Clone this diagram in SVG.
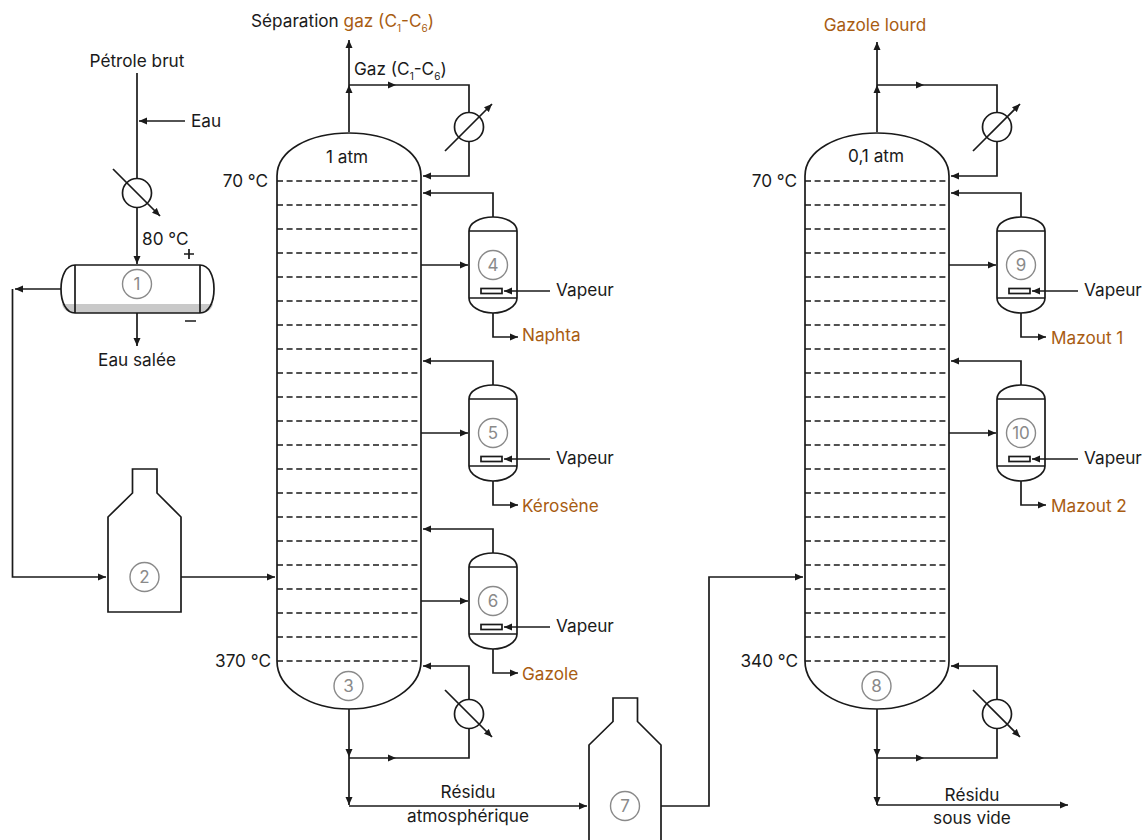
<svg xmlns="http://www.w3.org/2000/svg" width="1147" height="840" viewBox="0 0 1147 840">
<style>
text{font-family:"Inter","Liberation Sans",sans-serif;font-size:17.200px;fill:#1a1a1a}
.b{fill:#a85c12}
.m{text-anchor:middle}
.e{text-anchor:end}
.n{font-size:17px;fill:#8a8a8a;text-anchor:middle}
.s{font-size:10px}
.l{fill:none;stroke:#1a1a1a;stroke-width:1.700}
.w{fill:#fff;stroke:#1a1a1a;stroke-width:1.700}
.o{fill:#fff;stroke:#1a1a1a;stroke-width:1.700}
.a{fill:none;stroke:#1a1a1a;stroke-width:1.700;marker-end:url(#h)}
.c{fill:none;stroke:#8a8a8a;stroke-width:1.400}
.d{fill:none;stroke:#1a1a1a;stroke-width:1.700;stroke-dasharray:6 3.600}
</style>
<defs>
<marker id="h" markerUnits="userSpaceOnUse" markerWidth="10" markerHeight="8" refX="8" refY="4" orient="auto"><path d="M0 .5L8 4L0 7.500Z" fill="#1a1a1a"/></marker>
</defs>
<rect width="1147" height="840" fill="#fff"/>
<g id="connectors">
<path class="a" d="M137 73V264"/><path class="a" d="M185 121H139"/>
<path class="a" d="M61 289H15"/><path class="a" d="M12.500 289V577H106"/>
<path class="a" d="M137 313V346"/>
<path class="a" d="M181 577H275"/>
<path class="a" d="M349 132V85"/><path class="a" d="M349 85V40"/>
<path class="a" d="M349 85H396"/><path class="l" d="M396 85H469V113"/><path class="a" d="M469 142V176H423"/>
<path class="a" d="M493 217V193H423"/><path class="a" d="M421 265H468"/><path class="a" d="M550 291H504"/><path class="a" d="M493 313V337H518"/>
<path class="a" d="M493 385V361H423"/><path class="a" d="M421 433H468"/><path class="a" d="M550 459H504"/><path class="a" d="M493 481V505H518"/>
<path class="a" d="M493 553V529H423"/><path class="a" d="M421 601H468"/><path class="a" d="M550 627H504"/><path class="a" d="M493 649V673H518"/>
<path class="a" d="M349 709V757"/><path class="a" d="M349 757V805"/><path class="a" d="M349 758H396"/><path class="l" d="M396 758H469V728"/><path class="a" d="M469 699V666H423"/>
<path class="a" d="M349 806H587"/>
<path class="a" d="M661 806H709V577H803"/>
<path class="a" d="M877 132V85"/><path class="a" d="M877 85V42"/>
<path class="a" d="M877 85H924"/><path class="l" d="M924 85H997V113"/><path class="a" d="M997 142V176H951"/>
<path class="a" d="M1021 217V193H951"/><path class="a" d="M949 265H996"/><path class="a" d="M1078 291H1032"/><path class="a" d="M1021 313V337H1046"/>
<path class="a" d="M1021 385V361H951"/><path class="a" d="M949 433H996"/><path class="a" d="M1078 459H1032"/><path class="a" d="M1021 481V505H1046"/>
<path class="a" d="M877 709V757"/><path class="a" d="M877 757V805"/><path class="a" d="M877 758H924"/><path class="l" d="M924 758H997V728"/><path class="a" d="M997 699V666H951"/>
<path class="a" d="M877 805H1068"/>
</g>
<g id="hx-crude"><circle class="o" cx="137" cy="193" r="14.500"/><path class="a" d="M113 169L160 216"/></g>
<g id="hx-top1"><circle class="o" cx="469" cy="127" r="14.500"/><path class="a" d="M445 151L492 104"/></g>
<g id="hx-bottom1"><circle class="o" cx="469" cy="714" r="14.500"/><path class="a" d="M445 690L492 737"/></g>
<g id="hx-top2"><circle class="o" cx="997" cy="127" r="14.500"/><path class="a" d="M973 151L1020 104"/></g>
<g id="hx-bottom2"><circle class="o" cx="997" cy="714" r="14.500"/><path class="a" d="M973 690L1020 737"/></g>
<g id="node1">
<path d="M62 304H213C212 309 208 313 200 313H75C67 313 63 309 62 304Z" fill="#c9c9c9"/>
<path class="l" d="M75 265H200C209 265 214 276 214 289C214 302 209 313 200 313H75C66 313 61 302 61 289C61 276 66 265 75 265ZM75 265V313M200 265V313"/>
<circle class="c" cx="137" cy="284" r="14.500"/><text class="n" x="137" y="290">1</text>
<path class="l" d="M184 254H194M189 249V259M185 321H196"/>
</g>
<g id="node2"><path class="l" d="M108 612V517L132.500 493V469H157V493L181 517V612Z"/>
<circle class="c" cx="144.500" cy="577" r="14.500"/><text class="n" x="144.500" y="583">2</text></g>
<g id="node3">
<path class="l" d="M277 176C277 150 310 133 349 133C388 133 421 150 421 176V661C421 688 388 709 349 709C310 709 277 688 277 661Z"/>
<path class="d" d="M277 181H421M277 205H421M277 229H421M277 253H421M277 277H421M277 301H421M277 325H421M277 349H421M277 373H421M277 397H421M277 421H421M277 445H421M277 469H421M277 493H421M277 517H421M277 541H421M277 565H421M277 589H421M277 613H421M277 637H421M277 661H421"/>
<circle class="c" cx="348.500" cy="686" r="14.500"/><text class="n" x="348.500" y="692">3</text></g>
<g id="node4"><path class="l" d="M469 231C469 223 480 217 493 217C506 217 517 223 517 231V298C517 306 506 313 493 313C480 313 469 306 469 298ZM469 231H517M469 298H517"/>
<circle class="c" cx="493" cy="265" r="14.500"/><text class="n" x="493" y="271">4</text><rect class="w" x="481" y="288.500" width="21" height="5"/></g>
<g id="node5"><path class="l" d="M469 399C469 391 480 385 493 385C506 385 517 391 517 399V466C517 474 506 481 493 481C480 481 469 474 469 466ZM469 399H517M469 466H517"/>
<circle class="c" cx="493" cy="433" r="14.500"/><text class="n" x="493" y="439">5</text><rect class="w" x="481" y="456.500" width="21" height="5"/></g>
<g id="node6"><path class="l" d="M469 567C469 559 480 553 493 553C506 553 517 559 517 567V634C517 642 506 649 493 649C480 649 469 642 469 634ZM469 567H517M469 634H517"/>
<circle class="c" cx="493" cy="601" r="14.500"/><text class="n" x="493" y="607">6</text><rect class="w" x="481" y="624.500" width="21" height="5"/></g>
<g id="node7"><path class="l" d="M589 840V745L613 721.500V698H637.500V721.500L661 745V840"/>
<circle class="c" cx="625" cy="806" r="14.500"/><text class="n" x="625" y="812">7</text></g>
<g id="node8">
<path class="l" d="M805 176C805 150 838 133 877 133C916 133 949 150 949 176V661C949 688 916 709 877 709C838 709 805 688 805 661Z"/>
<path class="d" d="M805 181H949M805 205H949M805 229H949M805 253H949M805 277H949M805 301H949M805 325H949M805 349H949M805 373H949M805 397H949M805 421H949M805 445H949M805 469H949M805 493H949M805 517H949M805 541H949M805 565H949M805 589H949M805 613H949M805 637H949M805 661H949"/>
<circle class="c" cx="876.500" cy="686" r="14.500"/><text class="n" x="876.500" y="692">8</text></g>
<g id="node9"><path class="l" d="M997 231C997 223 1008 217 1021 217C1034 217 1045 223 1045 231V298C1045 306 1034 313 1021 313C1008 313 997 306 997 298ZM997 231H1045M997 298H1045"/>
<circle class="c" cx="1021" cy="265" r="14.500"/><text class="n" x="1021" y="271">9</text><rect class="w" x="1009" y="288.500" width="21" height="5"/></g>
<g id="node10"><path class="l" d="M997 399C997 391 1008 385 1021 385C1034 385 1045 391 1045 399V466C1045 474 1034 481 1021 481C1008 481 997 474 997 466ZM997 399H1045M997 466H1045"/>
<circle class="c" cx="1021" cy="433" r="14.500"/><text class="n" x="1021" y="439">10</text><rect class="w" x="1009" y="456.500" width="21" height="5"/></g>
<g id="labels">
<text class="m" x="137" y="67">Pétrole brut</text>
<text x="191" y="127">Eau</text>
<text x="142" y="245">80 °C</text>
<text class="m" x="137" y="366">Eau salée</text>
<text x="251" y="27">Séparation <tspan class="b">gaz (C<tspan class="s b" dy="5">1</tspan><tspan dy="-5">-C</tspan><tspan class="s b" dy="5">6</tspan><tspan dy="-5">)</tspan></tspan></text>
<text x="354" y="75">Gaz (C<tspan class="s" dy="5">1</tspan><tspan dy="-5">-C</tspan><tspan class="s" dy="5">6</tspan><tspan dy="-5">)</tspan></text>
<text class="m" x="347" y="163">1 atm</text>
<text class="e" x="268" y="187">70 °C</text>
<text class="e" x="271" y="667">370 °C</text>
<text x="556" y="296">Vapeur</text><text x="556" y="464">Vapeur</text><text x="556" y="632">Vapeur</text>
<text class="b" x="522" y="341">Naphta</text><text class="b" x="522" y="512">Kérosène</text><text class="b" x="522" y="680">Gazole</text>
<text class="m" x="468" y="798">Résidu</text><text class="m" x="468" y="822">atmosphérique</text>
<text class="b m" x="875" y="31">Gazole lourd</text>
<text class="m" x="876" y="162">0,1 atm</text>
<text class="e" x="797" y="187">70 °C</text>
<text class="e" x="798" y="667">340 °C</text>
<text x="1084" y="296">Vapeur</text><text x="1084" y="464">Vapeur</text>
<text class="b" x="1051" y="344">Mazout 1</text><text class="b" x="1051" y="512">Mazout 2</text>
<text class="m" x="972" y="801">Résidu</text><text class="m" x="972" y="824">sous vide</text>
</g>
</svg>
